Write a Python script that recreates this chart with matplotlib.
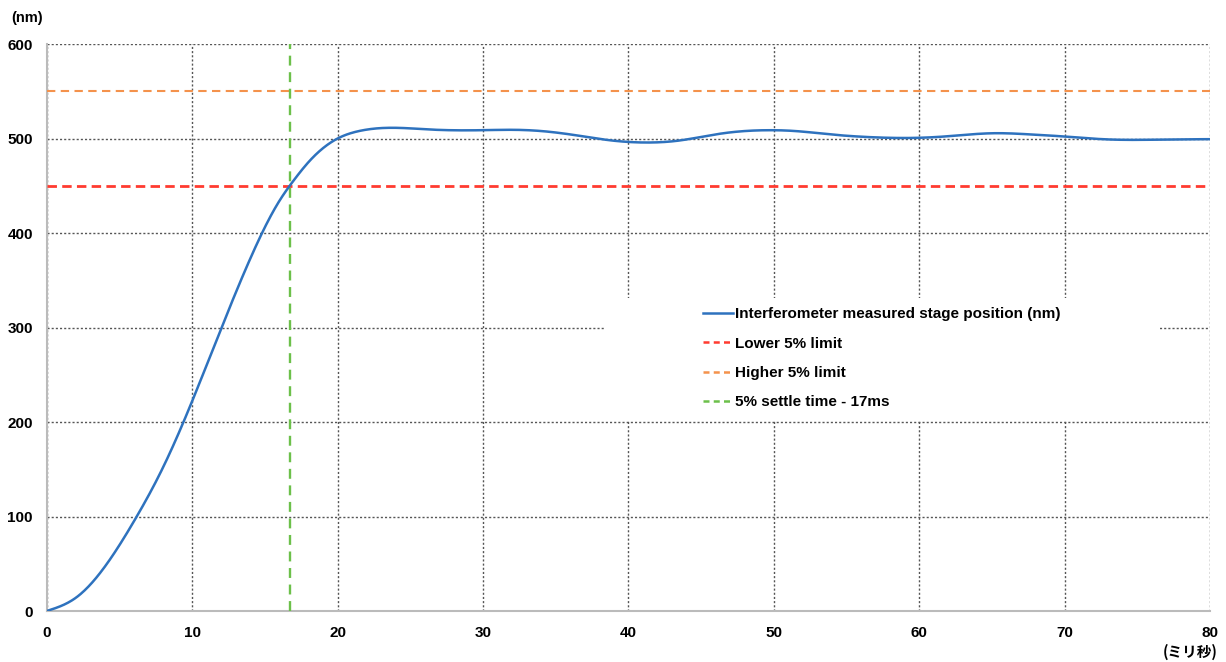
import matplotlib
matplotlib.use("Agg")
import matplotlib.pyplot as plt
from matplotlib.patches import Rectangle
from matplotlib.lines import Line2D
import numpy as np

# ---- data ----
time_ms = [0, 2, 4, 6, 8, 10, 12, 14, 16, 17, 18, 20, 21.5, 23.2,
           26.4, 29.9, 32.2, 34.1, 36.8, 38.7, 41.0, 43.3,
           46.4, 49.8, 51.3, 54.0, 56.7, 59.8, 61.7, 65.1, 67.8, 70.3, 72.6, 75.2,
           77.2, 80.0]
position_nm = [0, 14, 47, 95, 152, 222, 299, 373, 434, 456, 475, 500, 508, 511.2,
               509.5, 508.8, 509.2, 507.8, 502.5, 498.2,
               495.8, 497.5, 505.3, 508.8, 508.1, 504.2, 501.4, 500.7, 502.1, 505.6,
               504.2, 501.8, 499.3, 498.6, 499, 499.3]
lower_limit = 450
higher_limit = 550
settle_time = 16.7
x_ticks = [0, 10, 20, 30, 40, 50, 60, 70, 80]
y_ticks = [0, 100, 200, 300, 400, 500, 600]
legend_labels = ["Interferometer measured stage position (nm)",
                 "Lower 5% limit", "Higher 5% limit", "5% settle time - 17ms"]

FONT = ['Liberation Sans Narrow', 'Liberation Sans', 'DejaVu Sans']
plt.rcParams['font.family'] = FONT

C_BLUE, C_RED, C_ORANGE, C_GREEN = '#2E72BE', '#FF3B30', '#F4924C', '#6CC04A'


def natural_spline(x, y, xn):
    x = np.asarray(x, float)
    y = np.asarray(y, float)
    n = len(x)
    h = np.diff(x)
    A = np.zeros((n, n))
    b = np.zeros(n)
    A[0, 0] = 1
    A[-1, -1] = 1
    for i in range(1, n - 1):
        A[i, i - 1] = h[i - 1]
        A[i, i] = 2 * (h[i - 1] + h[i])
        A[i, i + 1] = h[i]
        b[i] = 3 * ((y[i + 1] - y[i]) / h[i] - (y[i] - y[i - 1]) / h[i - 1])
    c = np.linalg.solve(A, b)
    bb = (y[1:] - y[:-1]) / h - h * (2 * c[:-1] + c[1:]) / 3
    d = (c[1:] - c[:-1]) / (3 * h)
    idx = np.clip(np.searchsorted(x, xn) - 1, 0, n - 2)
    dx = xn - x[idx]
    return y[idx] + bb[idx] * dx + c[idx] * dx ** 2 + d[idx] * dx ** 3


fig = plt.figure(figsize=(12.26, 6.62), dpi=100)
ax = fig.add_axes([0.0381, 0.077, 0.9489, 0.8565])

xf = np.linspace(0, 80, 1200)
yf = natural_spline(time_ms, position_nm, xf)

ax.plot(xf, yf, color=C_BLUE, lw=1.8, zorder=4, solid_capstyle='round')
ax.axhline(lower_limit, color=C_RED, lw=2.0, ls=(0, (3.4, 1.9)), zorder=3)
ax.axhline(higher_limit, color=C_ORANGE, lw=1.5, ls=(0, (4, 2.6)), zorder=3)
ax.axvline(settle_time, color=C_GREEN, lw=1.7, ls=(0, (4.2, 2.8)), zorder=3)

ax.set_xlim(0, 80)
ax.set_ylim(0, 600)
ax.set_xticks(x_ticks)
ax.set_yticks(y_ticks)
ax.grid(True, color='#555555', ls=(0, (1.5, 1.5)), lw=1.0)
ax.set_axisbelow(True)

for s in ['top', 'right']:
    ax.spines[s].set_visible(False)
for s in ['left', 'bottom']:
    ax.spines[s].set_color('#BBBBBB')
    ax.spines[s].set_linewidth(1.5)
    ax.spines[s].set_zorder(2)

ax.tick_params(axis='both', length=0, labelsize=11)
ax.tick_params(axis='y', pad=10)
ax.tick_params(axis='x', pad=11)
for lab in ax.get_xticklabels() + ax.get_yticklabels():
    lab.set_fontweight('bold')

# white legend background
ax.add_patch(Rectangle((0.48, 0.337), 0.477, 0.215, transform=ax.transAxes,
                       facecolor='white', edgecolor='none', zorder=1))

handles = [Line2D([], [], color=C_BLUE, lw=1.8),
           Line2D([], [], color=C_RED, lw=1.8, ls=(0, (2.4, 1.7))),
           Line2D([], [], color=C_ORANGE, lw=1.8, ls=(0, (2.4, 1.7))),
           Line2D([], [], color=C_GREEN, lw=1.8, ls=(0, (2.4, 1.7)))]
leg = ax.legend(handles, legend_labels, loc='upper left',
                bbox_to_anchor=(0.5575, 0.549), frameon=False, borderpad=0,
                handlelength=2.0, handletextpad=0.1, labelspacing=1.0,
                prop={'family': FONT, 'weight': 'bold', 'size': 11})

fig.text(0.0095, 0.973, "(nm)", fontsize=10.5, fontweight='bold', va='center', ha='left')
fig.text(0.971, 0.015, "(ミリ秒)", fontsize=10.5, fontweight='bold', va='center', ha='center',
         family=['Noto Sans CJK JP', 'DejaVu Sans'])

fig.savefig("out.png", dpi=100)
